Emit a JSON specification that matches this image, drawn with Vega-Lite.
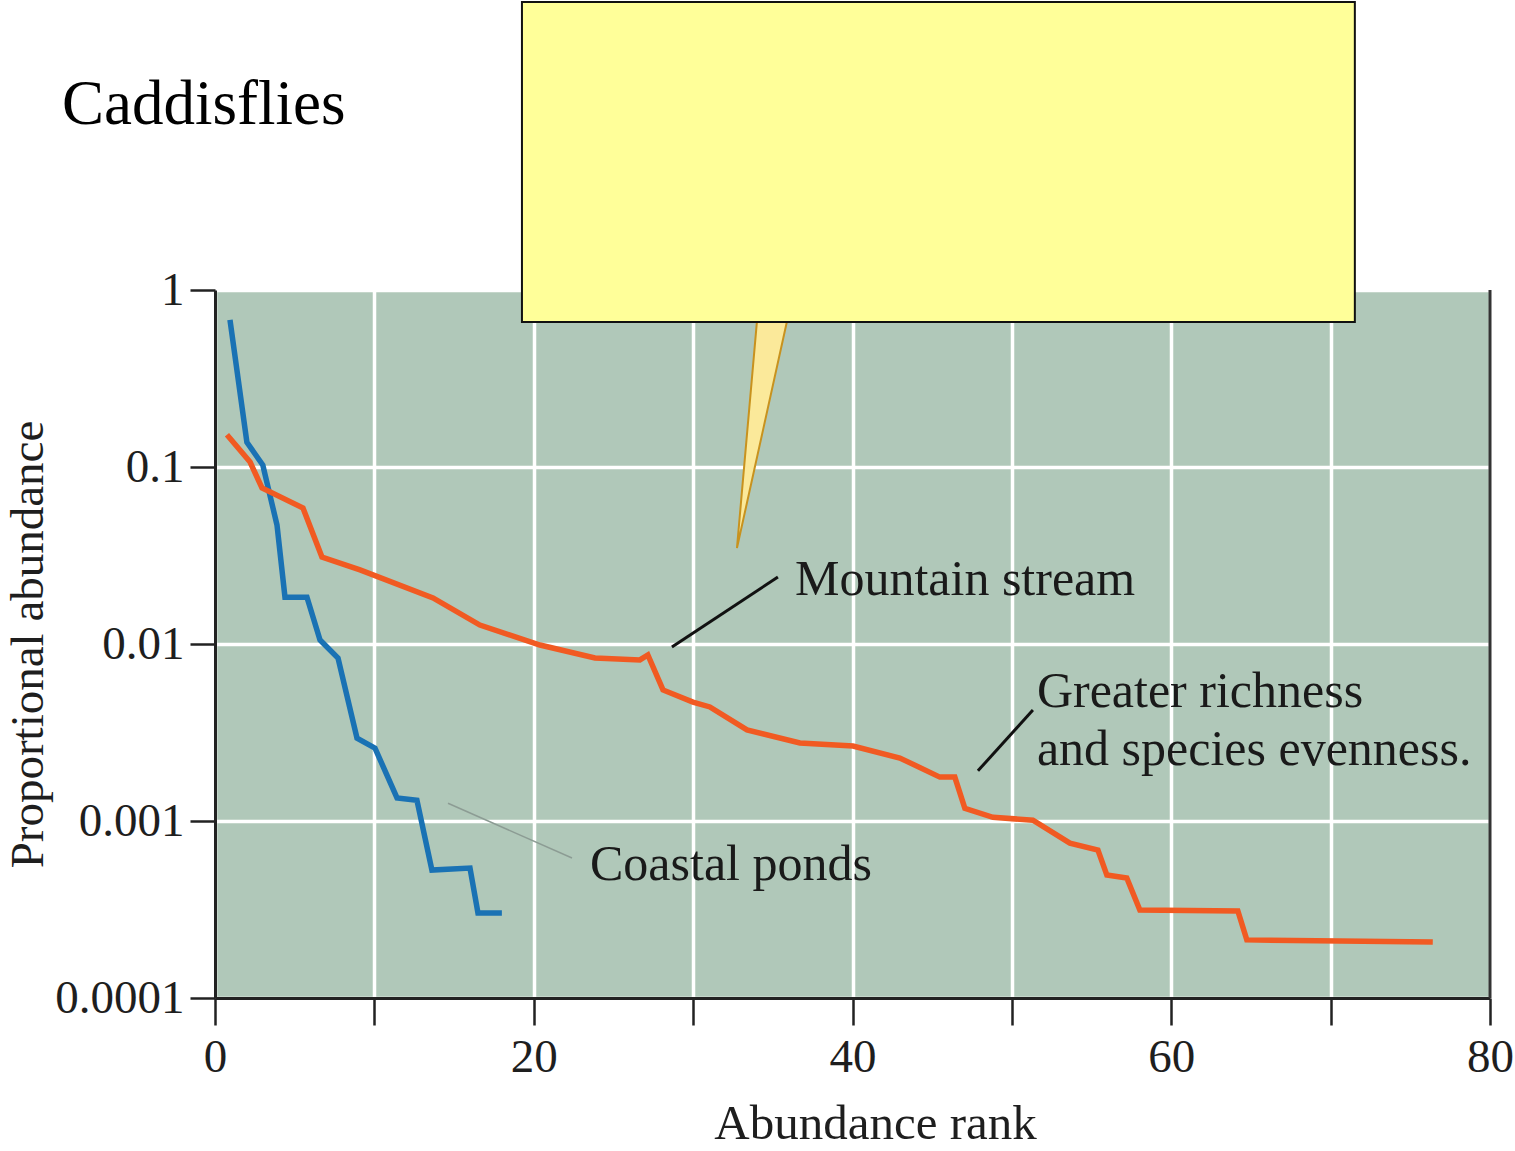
{
  "$schema": "https://vega.github.io/schema/vega-lite/v6.json",
  "autosize": "none",
  "width": 1275,
  "height": 708,
  "padding": {"left": 215, "top": 290, "right": 25, "bottom": 153},
  "background": "white",
  "config": {
    "view": {"fill": "#b0c8b9", "stroke": null},
    "axis": {
      "labelFont": "Liberation Serif",
      "titleFont": "Liberation Serif",
      "labelColor": "#1e1e1e",
      "titleColor": "#1e1e1e",
      "titleFontWeight": "normal",
      "domainColor": "#222222",
      "tickColor": "#222222",
      "gridColor": "#ffffff",
      "gridOpacity": 1
    }
  },
  "datasets": {
    "curves": [
      {"series": "Coastal ponds", "rank": 0.94, "abundance": 0.677},
      {"series": "Coastal ponds", "rank": 2.0, "abundance": 0.138},
      {"series": "Coastal ponds", "rank": 3.0, "abundance": 0.1026},
      {"series": "Coastal ponds", "rank": 3.89, "abundance": 0.047},
      {"series": "Coastal ponds", "rank": 4.39, "abundance": 0.0184},
      {"series": "Coastal ponds", "rank": 5.77, "abundance": 0.0184},
      {"series": "Coastal ponds", "rank": 6.59, "abundance": 0.01054},
      {"series": "Coastal ponds", "rank": 7.72, "abundance": 0.00833},
      {"series": "Coastal ponds", "rank": 8.91, "abundance": 0.00294},
      {"series": "Coastal ponds", "rank": 10.04, "abundance": 0.00258},
      {"series": "Coastal ponds", "rank": 11.42, "abundance": 0.00135},
      {"series": "Coastal ponds", "rank": 12.67, "abundance": 0.00131},
      {"series": "Coastal ponds", "rank": 13.61, "abundance": 0.000528},
      {"series": "Coastal ponds", "rank": 16.0, "abundance": 0.000542},
      {"series": "Coastal ponds", "rank": 16.5, "abundance": 0.000302},
      {"series": "Coastal ponds", "rank": 18.0, "abundance": 0.000302},
      {"series": "Mountain stream", "rank": 0.75, "abundance": 0.152},
      {"series": "Mountain stream", "rank": 2.2, "abundance": 0.1067},
      {"series": "Mountain stream", "rank": 2.95, "abundance": 0.0761},
      {"series": "Mountain stream", "rank": 5.52, "abundance": 0.0587},
      {"series": "Mountain stream", "rank": 6.71, "abundance": 0.031},
      {"series": "Mountain stream", "rank": 9.1, "abundance": 0.0262},
      {"series": "Mountain stream", "rank": 13.68, "abundance": 0.0182},
      {"series": "Mountain stream", "rank": 16.62, "abundance": 0.0128},
      {"series": "Mountain stream", "rank": 20.39, "abundance": 0.00987},
      {"series": "Mountain stream", "rank": 23.84, "abundance": 0.00833},
      {"series": "Mountain stream", "rank": 26.66, "abundance": 0.00813},
      {"series": "Mountain stream", "rank": 27.16, "abundance": 0.00867},
      {"series": "Mountain stream", "rank": 28.11, "abundance": 0.0055},
      {"series": "Mountain stream", "rank": 29.99, "abundance": 0.0047},
      {"series": "Mountain stream", "rank": 31.05, "abundance": 0.00441},
      {"series": "Mountain stream", "rank": 33.38, "abundance": 0.00327},
      {"series": "Mountain stream", "rank": 36.7, "abundance": 0.00276},
      {"series": "Mountain stream", "rank": 40.03, "abundance": 0.00265},
      {"series": "Mountain stream", "rank": 42.97, "abundance": 0.00227},
      {"series": "Mountain stream", "rank": 45.48, "abundance": 0.00177},
      {"series": "Mountain stream", "rank": 46.42, "abundance": 0.00177},
      {"series": "Mountain stream", "rank": 47.05, "abundance": 0.00118},
      {"series": "Mountain stream", "rank": 48.81, "abundance": 0.00105},
      {"series": "Mountain stream", "rank": 51.32, "abundance": 0.00101},
      {"series": "Mountain stream", "rank": 53.64, "abundance": 0.00075},
      {"series": "Mountain stream", "rank": 55.4, "abundance": 0.000686},
      {"series": "Mountain stream", "rank": 55.96, "abundance": 0.000495},
      {"series": "Mountain stream", "rank": 57.21, "abundance": 0.000476},
      {"series": "Mountain stream", "rank": 58.03, "abundance": 0.000314},
      {"series": "Mountain stream", "rank": 64.18, "abundance": 0.00031},
      {"series": "Mountain stream", "rank": 64.74, "abundance": 0.000213},
      {"series": "Mountain stream", "rank": 76.41, "abundance": 0.000207}
    ],
    "leaders": [
      {"label": "Mountain stream", "x": 28.67, "y": 0.00962, "x2": 35.32, "y2": 0.0239},
      {"label": "Greater richness", "x": 47.87, "y": 0.00192, "x2": 51.32, "y2": 0.00424},
      {"label": "Coastal ponds", "x": 14.62, "y": 0.00126, "x2": 22.4, "y2": 0.000618}
    ],
    "labels": [
      {"text": "Mountain stream", "x": 36.39, "y": 0.0189},
      {"text": "Greater richness", "x": 51.57, "y": 0.00441},
      {"text": "and species evenness.", "x": 51.57, "y": 0.00207},
      {"text": "Coastal ponds", "x": 23.53, "y": 0.000464}
    ],
    "heading": [
      {"text": "Caddisflies", "x": -9.6, "y": 8.67}
    ],
    "frame": [
      {"x": 80, "y": 0.0001, "y2": 1}
    ],
    "pointer": [
      {"y": 0.659, "x": 34.0, "x2": 35.88},
      {"y": 0.0348, "x": 32.75, "x2": 32.75}
    ],
    "box": [
      {"x": 19.26, "x2": 71.52, "y": 0.659, "y2": 42.4}
    ]
  },
  "layer": [
    {
      "data": {"name": "curves"},
      "mark": {"type": "line", "strokeWidth": 5.5, "strokeJoin": "miter"},
      "encoding": {
        "x": {
          "field": "rank",
          "type": "quantitative",
          "scale": {"domain": [0, 80], "nice": false, "zero": false},
          "axis": {
            "title": "Abundance rank",
            "values": [0, 10, 20, 30, 40, 50, 60, 70, 80],
            "labelExpr": "datum.value % 20 === 0 ? datum.label : ''",
            "labelFontSize": 47,
            "labelPadding": 9,
            "labelFlush": false,
            "titleFontSize": 49,
            "titleX": 660,
            "titleY": 140,
            "titleBaseline": "alphabetic",
            "titleAlign": "center",
            "tickSize": 27,
            "tickWidth": 2.5,
            "domainWidth": 3,
            "grid": true,
            "gridWidth": 3.5
          }
        },
        "y": {
          "field": "abundance",
          "type": "quantitative",
          "scale": {"type": "log", "domain": [0.0001, 1], "nice": false},
          "axis": {
            "title": "Proportional abundance",
            "values": [0.0001, 0.001, 0.01, 0.1, 1],
            "format": ".4~f",
            "labelFontSize": 47,
            "labelPadding": 6,
            "labelFlush": false,
            "titleFontSize": 47,
            "titlePadding": 2,
            "tickSize": 25,
            "tickWidth": 2.5,
            "domainWidth": 3,
            "grid": true,
            "gridWidth": 3.5
          }
        },
        "color": {
          "field": "series",
          "type": "nominal",
          "scale": {"domain": ["Coastal ponds", "Mountain stream"], "range": ["#1a72b4", "#f15a22"]},
          "legend": null
        }
      }
    },
    {
      "data": {"name": "frame"},
      "mark": {"type": "rule", "color": "#333333", "strokeWidth": 3},
      "encoding": {
        "x": {"field": "x", "type": "quantitative"},
        "y": {"field": "y", "type": "quantitative"},
        "y2": {"field": "y2"}
      }
    },
    {
      "data": {"name": "leaders"},
      "transform": [{"filter": "datum.label !== 'Coastal ponds'"}],
      "mark": {"type": "rule", "color": "#111111", "strokeWidth": 3},
      "encoding": {
        "x": {"field": "x", "type": "quantitative"},
        "y": {"field": "y", "type": "quantitative"},
        "x2": {"field": "x2"},
        "y2": {"field": "y2"}
      }
    },
    {
      "data": {"name": "leaders"},
      "transform": [{"filter": "datum.label === 'Coastal ponds'"}],
      "mark": {"type": "rule", "color": "#8c9c94", "strokeWidth": 1.5},
      "encoding": {
        "x": {"field": "x", "type": "quantitative"},
        "y": {"field": "y", "type": "quantitative"},
        "x2": {"field": "x2"},
        "y2": {"field": "y2"}
      }
    },
    {
      "data": {"name": "labels"},
      "mark": {"type": "text", "align": "left", "baseline": "alphabetic", "font": "Liberation Serif", "fontSize": 50, "color": "#1a1a1a"},
      "encoding": {
        "x": {"field": "x", "type": "quantitative"},
        "y": {"field": "y", "type": "quantitative"},
        "text": {"field": "text"}
      }
    },
    {
      "data": {"name": "pointer"},
      "mark": {"type": "area", "orient": "horizontal", "fill": "#fbe99a", "stroke": "#c8921e", "strokeWidth": 2},
      "encoding": {
        "y": {"field": "y", "type": "quantitative"},
        "x": {"field": "x", "type": "quantitative"},
        "x2": {"field": "x2"}
      }
    },
    {
      "data": {"name": "box"},
      "mark": {"type": "rect", "fill": "#ffff99", "stroke": "#111111", "strokeWidth": 2},
      "encoding": {
        "x": {"field": "x", "type": "quantitative"},
        "x2": {"field": "x2"},
        "y": {"field": "y", "type": "quantitative"},
        "y2": {"field": "y2"}
      }
    },
    {
      "data": {"name": "heading"},
      "mark": {"type": "text", "align": "left", "baseline": "alphabetic", "font": "Liberation Serif", "fontSize": 63, "color": "#000000"},
      "encoding": {
        "x": {"field": "x", "type": "quantitative"},
        "y": {"field": "y", "type": "quantitative"},
        "text": {"field": "text"}
      }
    }
  ]
}
